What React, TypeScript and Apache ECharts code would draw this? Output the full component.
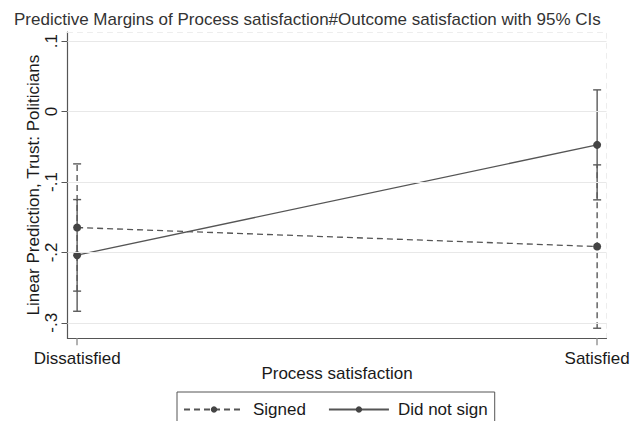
import React, { useEffect, useRef } from "react";
import * as echarts from "echarts";

const categories = ["Dissatisfied", "Satisfied"];
const xPositions = [0, 1];
const signedMargin = [-0.1647, -0.1917];
const signedLow = [-0.255, -0.3077];
const signedHigh = [-0.0743, -0.0757];
const notSignedMargin = [-0.204, -0.0473];
const notSignedLow = [-0.2836, -0.1254];
const notSignedHigh = [-0.125, 0.0308];
const yTicks = [-0.3, -0.2, -0.1, 0, 0.1];
const yTickLabels = ["-.3", "-.2", "-.1", "0", ".1"];

const FONT = "Liberation Sans, Arial, sans-serif";
const TEXT = "#1a1a1a";
const FS = 17;

function errorBars(dashed: boolean) {
  return (params: any, api: any) => {
    const x = api.value(0);
    const lo = api.coord([x, api.value(1)]);
    const hi = api.coord([x, api.value(2)]);
    const style = {
      stroke: "#5a5a5a",
      lineWidth: 1.4,
      lineDash: dashed ? [6, 4] : null,
    };
    const capStyle = { stroke: "#5a5a5a", lineWidth: 1.4 };
    return {
      type: "group",
      children: [
        { type: "line", shape: { x1: lo[0], y1: lo[1], x2: hi[0], y2: hi[1] }, style },
        { type: "line", shape: { x1: lo[0] - 4, y1: lo[1], x2: lo[0] + 4, y2: lo[1] }, style: capStyle },
        { type: "line", shape: { x1: hi[0] - 4, y1: hi[1], x2: hi[0] + 4, y2: hi[1] }, style: capStyle },
      ],
    };
  };
}

export default function App() {
  const ref = useRef<HTMLDivElement>(null);
  useEffect(() => {
    if (!ref.current) return;
    const chart = echarts.init(ref.current, undefined, { renderer: "svg" });
    const xmin = -0.0185;
    const xmax = 1.018;
    const ymin = -0.322;
    const ymax = 0.113;
    chart.setOption({
      animation: false,
      backgroundColor: "#ffffff",
      textStyle: { fontFamily: FONT },
      title: {
        text: "Predictive Margins of Process satisfaction#Outcome satisfaction with 95% CIs",
        left: 9,
        top: 6,
        textStyle: { fontFamily: FONT, fontSize: FS, fontWeight: "normal", color: "#333" },
      },
      grid: { left: 67.5, right: 30.5, top: 32, bottom: 82.7 },
      legend: {
        data: ["Signed", "Did not sign"],
        left: 177,
        top: 392,
        orient: "horizontal",
        padding: [9, 7, 30, 6],
        itemWidth: 60,
        itemHeight: 8,
        itemGap: 22,
        borderColor: "#555",
        borderWidth: 1,
        borderRadius: 0,
        textStyle: { fontFamily: FONT, fontSize: FS, color: TEXT, padding: [0, 0, 0, 4] },
      },
      xAxis: [
        {
          type: "value",
          min: xmin,
          max: xmax,
          name: "Process satisfaction",
          nameLocation: "middle",
          nameGap: 27,
          nameMoveOverlap: false,
          nameTextStyle: { fontFamily: FONT, fontSize: FS, color: TEXT },
          axisLine: { show: true, onZero: false, lineStyle: { color: "#555", width: 1.2 } },
          axisTick: { show: true, length: 7, customValues: xPositions, lineStyle: { color: "#999", width: 1.5 } },
          axisLabel: {
            customValues: xPositions,
            margin: 12,
            fontFamily: FONT,
            fontSize: FS,
            color: TEXT,
            formatter: (v: number) => categories[Math.round(v)] ?? "",
          },
          splitLine: { show: false },
        },
        {
          type: "value",
          position: "top",
          min: xmin,
          max: xmax,
          axisLine: { show: true, onZero: false, lineStyle: { color: "#ededed", type: [5, 5], width: 1 } },
          axisTick: { show: false },
          axisLabel: { show: false },
          splitLine: { show: false },
        },
      ],
      yAxis: [
        {
          type: "value",
          min: ymin,
          max: ymax,
          name: "Linear Prediction, Trust: Politicians",
          nameLocation: "middle",
          nameGap: 26,
          nameMoveOverlap: false,
          nameTextStyle: { fontFamily: FONT, fontSize: FS, color: TEXT },
          axisLine: { show: true, onZero: false, lineStyle: { color: "#555", width: 1.2 } },
          axisTick: { show: true, length: 6, customValues: yTicks, lineStyle: { color: "#555" } },
          axisLabel: {
            customValues: yTicks,
            rotate: 90,
            margin: 8,
            fontFamily: FONT,
            fontSize: FS,
            color: TEXT,
            formatter: (v: number) => {
              const i = yTicks.findIndex((t) => Math.abs(t - v) < 1e-6);
              return i >= 0 ? yTickLabels[i] : "";
            },
          },
          splitLine: { show: false },
        },
        {
          type: "value",
          position: "right",
          min: ymin,
          max: ymax,
          axisLine: { show: true, onZero: false, lineStyle: { color: "#ededed", type: [5, 5], width: 1 } },
          axisTick: { show: false },
          axisLabel: { show: false },
          splitLine: { show: false },
        },
      ],
      series: [
        {
          type: "line",
          name: "gridlines",
          data: [],
          silent: true,
          markLine: {
            silent: true,
            symbol: "none",
            label: { show: false },
            lineStyle: { color: "#e8e8e8", type: "solid", width: 1.2 },
            data: yTicks.map((t) => ({ yAxis: t })),
          },
          z: 0,
        },
        {
          type: "custom",
          name: "Signed CI",
          renderItem: errorBars(true),
          data: xPositions.map((x, i) => [x, signedLow[i], signedHigh[i]]),
          encode: { x: 0, y: [1, 2] },
          z: 1,
        },
        {
          type: "custom",
          name: "Did not sign CI",
          renderItem: errorBars(false),
          data: xPositions.map((x, i) => [x, notSignedLow[i], notSignedHigh[i]]),
          encode: { x: 0, y: [1, 2] },
          z: 1,
        },
        {
          type: "line",
          name: "Signed",
          data: xPositions.map((x, i) => [x, signedMargin[i]]),
          symbol: "circle",
          symbolSize: 8,
          lineStyle: { color: "#555", width: 1.3, type: [6, 4] },
          itemStyle: { color: "#444" },
          z: 3,
        },
        {
          type: "line",
          name: "Did not sign",
          data: xPositions.map((x, i) => [x, notSignedMargin[i]]),
          symbol: "circle",
          symbolSize: 8,
          lineStyle: { color: "#555", width: 1.3, type: "solid" },
          itemStyle: { color: "#444" },
          z: 3,
        },
      ],
    });
    return () => chart.dispose();
  }, []);
  return <div ref={ref} style={{ width: 637, height: 421, position: "fixed", left: 0, top: 0 }} />;
}
